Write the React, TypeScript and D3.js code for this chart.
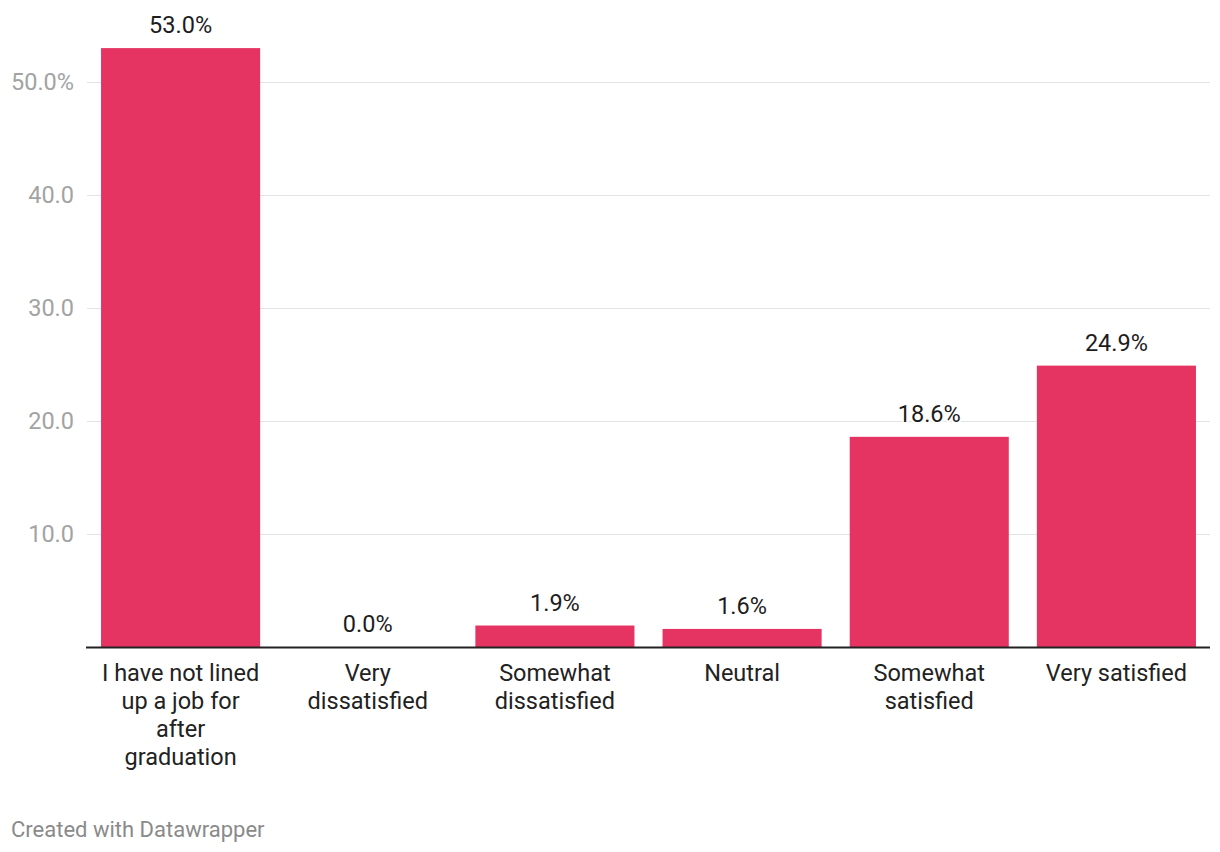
import React, { useEffect, useRef } from "react";
import * as d3 from "d3";

const categories = [
  "I have not lined up a job for after graduation",
  "Very dissatisfied",
  "Somewhat dissatisfied",
  "Neutral",
  "Somewhat satisfied",
  "Very satisfied",
];
const values = [53.0, 0.0, 1.9, 1.6, 18.6, 24.9];
const yTicks = [10, 20, 30, 40, 50];
const footer = "Created with Datawrapper";

const W = 1220;
const H = 852;
const FONT = "Roboto, 'Noto Sans', sans-serif";

export default function App() {
  const ref = useRef<SVGSVGElement>(null);

  useEffect(() => {
    const svg = d3.select(ref.current);
    svg.selectAll("*").remove();

    const x = d3
      .scaleBand<string>()
      .domain(categories)
      .range([87, 1210])
      .paddingInner(0.15)
      .paddingOuter(0.075);
    const y = d3.scaleLinear().domain([0, 50]).range([647, 82]);

    // gridlines
    svg
      .append("g")
      .selectAll("line")
      .data(yTicks)
      .join("line")
      .attr("x1", 87)
      .attr("x2", 1210)
      .attr("y1", (d) => y(d) + 0.5)
      .attr("y2", (d) => y(d) + 0.5)
      .attr("stroke", "#e3e3e3")
      .attr("stroke-width", 1);

    // y labels
    svg
      .append("g")
      .selectAll("text")
      .data(yTicks)
      .join("text")
      .attr("x", 74)
      .attr("y", (d) => y(d) + 8)
      .attr("text-anchor", "end")
      .attr("font-family", FONT)
      .attr("font-size", 23.5)
      .attr("fill", "#a3a3a3")
      .text((d) => (d === 50 ? d.toFixed(1) + "%" : d.toFixed(1)));

    // bars
    svg
      .append("g")
      .selectAll("rect")
      .data(values)
      .join("rect")
      .attr("x", (_, i) => x(categories[i])!)
      .attr("y", (d) => y(d))
      .attr("width", x.bandwidth())
      .attr("height", (d) => y(0) - y(d))
      .attr("fill", "#e63462");

    // baseline
    svg
      .append("line")
      .attr("x1", 86)
      .attr("x2", 1210)
      .attr("y1", y(0) + 0.5)
      .attr("y2", y(0) + 0.5)
      .attr("stroke", "#222")
      .attr("stroke-width", 2);

    // value labels
    svg
      .append("g")
      .selectAll("text")
      .data(values)
      .join("text")
      .attr("x", (_, i) => x(categories[i])! + x.bandwidth() / 2)
      .attr("y", (d) => y(d) - 15)
      .attr("text-anchor", "middle")
      .attr("font-family", FONT)
      .attr("font-size", 23.5)
      .attr("fill", "#1d1d1d")
      .attr("stroke", "#fff")
      .attr("stroke-width", 4)
      .attr("paint-order", "stroke")
      .text((d) => d.toFixed(1) + "%");

    // category labels with wrapping
    const maxW = x.bandwidth() + 4;
    const catG = svg.append("g");
    categories.forEach((c) => {
      const cx = x(c)! + x.bandwidth() / 2;
      const t = catG
        .append("text")
        .attr("x", cx)
        .attr("y", 681)
        .attr("text-anchor", "middle")
        .attr("font-family", FONT)
        .attr("font-size", 23.5)
        .attr("fill", "#222");
      const words = c.split(" ");
      let line: string[] = [];
      let tspan = t.append("tspan").attr("x", cx).attr("dy", 0);
      words.forEach((w) => {
        line.push(w);
        tspan.text(line.join(" "));
        if ((tspan.node() as SVGTSpanElement).getComputedTextLength() > maxW && line.length > 1) {
          line.pop();
          tspan.text(line.join(" "));
          line = [w];
          tspan = t.append("tspan").attr("x", cx).attr("dy", 28).text(w);
        }
      });
    });

    // footer
    svg
      .append("text")
      .attr("x", 11)
      .attr("y", 837)
      .attr("font-family", FONT)
      .attr("font-size", 22)
      .attr("fill", "#8a8a8a")
      .text(footer);
  }, []);

  return (
    <svg
      ref={ref}
      width={W}
      height={H}
      style={{ position: "absolute", left: 0, top: 0, background: "#fff" }}
    />
  );
}
